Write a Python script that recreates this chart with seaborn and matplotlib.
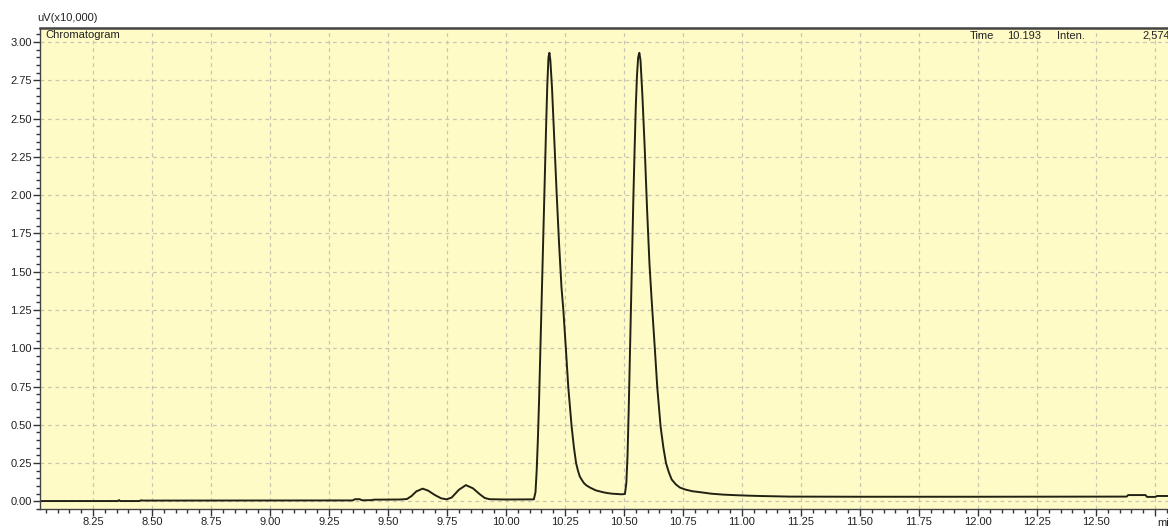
import numpy as np
import pandas as pd
import matplotlib
matplotlib.use("Agg")
import matplotlib.pyplot as plt
import seaborn as sns

# retention time (min) and intensity (uV x10,000)
time_min = [
    8.025, 8.355, 8.36, 8.365, 8.445, 8.455, 8.46, 9.35, 9.36, 9.38, 9.39, 9.43, 9.44,
    9.55, 9.58, 9.60, 9.62, 9.647, 9.67, 9.70, 9.725, 9.748, 9.77, 9.80, 9.83, 9.86,
    9.89, 9.91, 9.93, 10.00, 10.118,
    10.125, 10.130, 10.135, 10.140, 10.145, 10.150, 10.155, 10.160, 10.165, 10.170,
    10.175, 10.180, 10.184, 10.188, 10.195, 10.205, 10.215, 10.225, 10.235, 10.243,
    10.254, 10.264, 10.278, 10.288, 10.297, 10.305, 10.312, 10.320, 10.330, 10.340,
    10.356, 10.380, 10.410, 10.430, 10.450, 10.470, 10.490, 10.504,
    10.510, 10.515, 10.520, 10.525, 10.530, 10.535, 10.540, 10.545, 10.550, 10.555,
    10.560, 10.565, 10.570, 10.578, 10.588, 10.598, 10.608, 10.617, 10.631, 10.641,
    10.655, 10.667, 10.678, 10.690, 10.702, 10.720, 10.737, 10.760, 10.790, 10.822,
    10.870, 10.920, 10.977, 11.030, 11.076,
    11.20, 11.50, 12.00, 12.63, 12.636, 12.71, 12.716, 12.752, 12.758, 12.86,
]
inten = [
    0.002, 0.002, 0.008, 0.002, 0.002, 0.007, 0.005, 0.006, 0.014, 0.014, 0.007, 0.008, 0.011,
    0.012, 0.015, 0.035, 0.065, 0.083, 0.070, 0.040, 0.020, 0.013, 0.025, 0.075, 0.106, 0.085,
    0.045, 0.022, 0.014, 0.012, 0.013,
    0.06, 0.20, 0.40, 0.65, 0.95, 1.25, 1.55, 1.85, 2.15, 2.45,
    2.72, 2.90, 2.93, 2.88, 2.70, 2.35, 2.00, 1.68, 1.40, 1.25,
    0.99, 0.745, 0.49, 0.35, 0.25, 0.20, 0.165, 0.143, 0.12, 0.105,
    0.09, 0.072, 0.06, 0.054, 0.050, 0.048, 0.046, 0.048,
    0.12, 0.30, 0.60, 0.95, 1.30, 1.65, 2.00, 2.30, 2.58, 2.78,
    2.90, 2.93, 2.88, 2.65, 2.30, 1.90, 1.55, 1.32, 0.99, 0.745,
    0.49, 0.35, 0.25, 0.19, 0.143, 0.11, 0.09, 0.077, 0.066, 0.06,
    0.05, 0.044, 0.04, 0.037, 0.035,
    0.031, 0.030, 0.030, 0.031, 0.041, 0.041, 0.029, 0.029, 0.035, 0.035,
]

x_ticks = [8.25, 8.50, 8.75, 9.00, 9.25, 9.50, 9.75, 10.00, 10.25, 10.50, 10.75,
           11.00, 11.25, 11.50, 11.75, 12.00, 12.25, 12.50, 12.75]
x_labels = ["8.25", "8.50", "8.75", "9.00", "9.25", "9.50", "9.75", "10.00", "10.25",
            "10.50", "10.75", "11.00", "11.25", "11.50", "11.75", "12.00", "12.25", "12.50", ""]
y_ticks = [0.00, 0.25, 0.50, 0.75, 1.00, 1.25, 1.50, 1.75, 2.00, 2.25, 2.50, 2.75, 3.00]
y_labels = ["0.00", "0.25", "0.50", "0.75", "1.00", "1.25", "1.50", "1.75", "2.00",
            "2.25", "2.50", "2.75", "3.00"]

df = pd.DataFrame({"time": time_min, "inten": inten})

sns.set_style("ticks")
plt.rcParams["font.family"] = ["Liberation Sans", "DejaVu Sans"]

W, H = 1168, 530
fig = plt.figure(figsize=(W / 100, H / 100), dpi=100)
# axes runs past the right edge of the figure, like the cropped screenshot
ax = fig.add_axes([40 / W, (H - 509) / H, (1180 - 40) / W, (509 - 28) / H])
ax.set_facecolor("#fffbc6")

sns.lineplot(data=df, x="time", y="inten", ax=ax, color="#222214", linewidth=1.4, sort=False)

ax.set_xlim(8.0254, 12.856)
ax.set_ylim(-0.045, 3.092)
ax.set_xticks(x_ticks)
ax.set_xticklabels(x_labels)
ax.set_yticks(y_ticks)
ax.set_yticklabels(y_labels)
ax.set_xticks(np.arange(8.05, 12.86, 0.05), minor=True)
ax.set_yticks(np.arange(-0.05, 3.09, 0.05), minor=True)
ax.tick_params(axis="both", which="major", length=5, width=1, labelsize=8, pad=1,
               color="#333333", labelcolor="#222222")
ax.tick_params(axis="both", which="minor", length=3, width=1, color="#333333")
ax.set_xlabel("")
ax.set_ylabel("")

ax.grid(True, which="major", color="#c8c6b2", linestyle=(0, (3, 3)), linewidth=0.9)
ax.set_axisbelow(True)

for side in ["top", "left", "bottom", "right"]:
    ax.spines[side].set_visible(True)
    ax.spines[side].set_color("#444444")
ax.spines["top"].set_linewidth(1.8)
ax.spines["left"].set_linewidth(1.0)
ax.spines["bottom"].set_linewidth(1.0)

fig.text(37 / W, 1 - 18 / H, "uV(x10,000)", fontsize=8, color="#222222", va="center", ha="left")
fig.text(45 / W, 1 - 35 / H, "Chromatogram", fontsize=8, color="#222222", va="center", ha="left")
fig.text(970 / W, 1 - 36 / H, "Time", fontsize=8, color="#222222", va="center", ha="left")
fig.text(1007 / W, 1 - 36 / H, "10.193", fontsize=8, color="#222222", va="center", ha="left")
fig.text(1057 / W, 1 - 36 / H, "Inten.", fontsize=8, color="#222222", va="center", ha="left")
fig.text(1142 / W, 1 - 36 / H, "2,574", fontsize=8, color="#222222", va="center", ha="left")
# cut by the right edge, as in the screenshot
fig.text(1157 / W, 1 - 523 / H, "min", fontsize=8, color="#222222", va="center", ha="left")

fig.savefig("out.png", dpi=100, facecolor="white")
